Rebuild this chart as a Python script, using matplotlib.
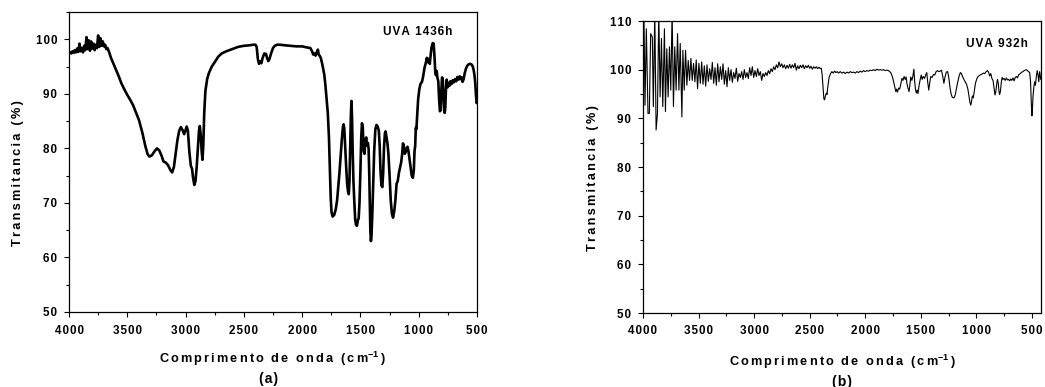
import matplotlib
matplotlib.use("Agg")
import matplotlib.pyplot as plt
from matplotlib.ticker import MultipleLocator, FuncFormatter

# ---- spectrum (a): UVA 1436h ----
wn_a = [4000, 3990, 3980, 3970, 3960, 3950, 3940, 3930, 3920, 3910, 3900, 3890, 3880, 3870,
        3860, 3850, 3840, 3830, 3820, 3810, 3800, 3790, 3780, 3770, 3760, 3750, 3740, 3730,
        3720, 3710, 3700, 3690, 3680, 3670, 3655, 3640, 3620, 3600, 3575, 3550, 3525, 3500,
        3475, 3450, 3400, 3370, 3345, 3325, 3310, 3290, 3265, 3245, 3225, 3205, 3190, 3170,
        3150, 3130, 3115, 3100, 3085, 3070, 3055, 3040, 3025, 3012, 3000, 2990, 2980, 2968,
        2955, 2945, 2935, 2925, 2915, 2905, 2895, 2885, 2878, 2870, 2862, 2855, 2848, 2840,
        2830, 2815, 2800, 2775, 2750, 2720, 2690, 2650, 2600, 2550, 2500, 2450, 2420, 2400,
        2390, 2380, 2370, 2360, 2350, 2340, 2325, 2310, 2300, 2290, 2280, 2265, 2250, 2235,
        2215, 2190, 2150, 2100, 2050, 2000, 1960, 1930, 1915, 1905, 1895, 1885, 1875, 1865,
        1858, 1850, 1840, 1825, 1810, 1800, 1790, 1780, 1770, 1762, 1755, 1748, 1738, 1725,
        1712, 1700, 1690, 1680, 1670, 1660, 1650, 1644, 1638, 1630, 1622, 1614, 1606, 1600,
        1594, 1588, 1582, 1577, 1572, 1566, 1560, 1552, 1545, 1538, 1530, 1522, 1515, 1508,
        1500, 1493, 1487, 1480, 1472, 1465, 1458, 1450, 1443, 1436, 1430, 1425, 1420, 1415,
        1410, 1405, 1398, 1390, 1382, 1372, 1362, 1352, 1342, 1335, 1328, 1320, 1312, 1305,
        1298, 1290, 1284, 1276, 1268, 1260, 1250, 1240, 1230, 1220, 1210, 1200, 1190, 1180,
        1170, 1160, 1150, 1142, 1135, 1128, 1120, 1112, 1104, 1096, 1088, 1080, 1070, 1060,
        1050, 1042, 1036, 1030, 1025, 1020, 1013, 1005, 995, 985, 972, 962, 950, 940, 930,
        922, 915, 905, 898, 890, 880, 872, 865, 858, 852, 846, 840, 832, 825, 818, 812, 806,
        800, 794, 788, 782, 777, 772, 766, 760, 752, 744, 736, 728, 718, 708, 698, 688, 678,
        668, 658, 648, 640, 632, 624, 616, 605, 595, 585, 572, 560, 548, 538, 530, 522, 515,
        508, 503, 500]
tr_a = [97.5, 97.6, 97.4, 97.8, 97.5, 98.0, 97.6, 98.3, 97.7, 99.2, 97.8, 98.4, 97.6, 98.8,
        98.0, 100.4, 98.2, 99.8, 97.9, 99.6, 98.3, 99.2, 98.0, 99.0, 98.4, 100.7, 98.6, 100.2,
        98.8, 99.6, 98.7, 99.0, 98.2, 98.4, 97.6, 96.6, 95.6, 94.6, 93.3, 91.9, 90.8, 89.8,
        88.9, 87.9, 85.2, 82.8, 80.4, 78.9, 78.5, 78.7, 79.5, 80.0, 79.6, 78.6, 77.6, 77.4,
        76.9, 76.0, 75.6, 76.6, 79.0, 81.5, 83.2, 83.9, 83.3, 82.6, 83.4, 84.0, 83.2, 79.5,
        76.8, 76.3, 74.5, 73.3, 74.0, 76.5, 80.0, 83.2, 84.1, 82.5, 79.5, 77.9, 80.5, 86.5,
        90.5, 92.7, 93.8, 95.0, 95.8, 96.8, 97.4, 97.8, 98.2, 98.6, 98.8, 98.9, 99.0, 99.0,
        98.6, 96.4, 95.5, 95.9, 95.6, 96.5, 97.4, 97.3, 96.5, 96.0, 96.4, 97.5, 98.4, 98.8,
        99.0, 99.0, 98.9, 98.8, 98.7, 98.7, 98.5, 98.4, 97.8, 97.2, 97.4, 97.0, 97.6, 98.1,
        97.2, 97.0, 96.6, 95.2, 93.5, 91.5, 89.0, 86.5, 82.0, 76.0, 71.0, 68.3, 67.5, 67.8,
        68.8, 70.5, 73.0, 75.5, 78.5, 81.5, 84.0, 84.4, 83.5, 80.0, 76.5, 73.5, 72.0, 71.6,
        74.0, 80.0, 86.0, 88.7, 85.5, 79.0, 74.0, 70.0, 67.0, 66.0, 65.8, 66.8, 67.2, 70.0,
        76.0, 82.0, 84.6, 84.0, 79.5, 79.0, 81.5, 82.0, 80.5, 81.0, 80.0, 76.0, 70.0, 65.0,
        63.0, 64.0, 68.0, 74.0, 79.5, 83.5, 84.3, 84.0, 83.2, 80.5, 76.0, 73.2, 72.9, 75.5,
        80.0, 82.8, 83.1, 82.0, 80.9, 79.0, 75.0, 70.5, 68.0, 67.3, 68.5, 70.5, 73.5, 74.0,
        75.5, 76.5, 77.5, 79.0, 80.9, 80.5, 79.0, 79.3, 80.0, 80.3, 79.5, 78.2, 76.5, 75.0,
        74.6, 76.0, 79.5, 80.5, 83.8, 83.5, 86.0, 89.0, 90.8, 91.8, 92.2, 93.2, 94.8, 95.6, 96.6,
        95.8, 96.4, 95.5, 97.0, 98.5, 99.3, 99.2, 97.0, 94.0, 93.4, 94.2, 93.0, 92.3, 89.0, 86.8, 87.0, 90.5,
        93.0, 92.8, 90.0, 87.0, 86.5, 87.5, 91.0, 92.6, 91.2, 92.0, 91.5, 92.3, 91.8, 92.5, 92.1, 92.7, 92.3,
        93.1, 92.6, 93.2, 92.7, 93.0, 92.2, 92.6, 93.8, 94.6, 95.1, 95.4, 95.5, 95.4, 95.1, 94.5, 93.5, 92.0,
        89.5, 88.3, 88.5]

# ---- spectrum (b): UVA 932h ----
wn_b = [4000, 3991, 3982, 3970, 3955, 3943, 3931, 3916, 3907, 3894, 3882, 3870, 3858, 3846,
        3834, 3822, 3807, 3798, 3786, 3774, 3762, 3750, 3738, 3726, 3714, 3702, 3689, 3677,
        3665, 3650, 3641, 3629, 3617, 3605, 3593, 3581, 3569, 3557, 3545, 3533, 3521, 3509,
        3497, 3484, 3472, 3460, 3448, 3436, 3424, 3412, 3400, 3388, 3376, 3364, 3352, 3340,
        3328, 3316, 3304, 3292, 3280, 3268, 3256, 3244, 3232, 3220, 3208, 3196, 3184, 3172,
        3160, 3148, 3136, 3124, 3112, 3100, 3088, 3076, 3064, 3052, 3040, 3028, 3016, 3004,
        2992, 2980, 2968, 2956, 2944, 2932, 2920, 2908, 2896, 2884, 2872, 2860, 2848, 2836,
        2824, 2812, 2800, 2788, 2776, 2764, 2752, 2740, 2728, 2716, 2704, 2692, 2680, 2668,
        2656, 2644, 2632, 2620, 2608, 2596, 2584, 2572, 2560, 2548, 2536, 2524, 2512, 2500,
        2488, 2476, 2464, 2452, 2440, 2428, 2416, 2404, 2395, 2388, 2380, 2372, 2366, 2358,
        2350, 2344, 2335, 2325, 2312, 2300, 2288, 2276, 2264, 2252, 2240, 2225, 2210, 2195,
        2180, 2165, 2150, 2135, 2120, 2105, 2090, 2075, 2060, 2045, 2030, 2015, 2000, 1985,
        1970, 1955, 1940, 1925, 1910, 1895, 1880, 1865, 1850, 1835, 1820, 1805, 1790, 1770,
        1755, 1745, 1735, 1725, 1718, 1710, 1700, 1690, 1680, 1670, 1660, 1650, 1640, 1632,
        1625, 1615, 1605, 1598, 1590, 1580, 1570, 1562, 1555, 1548, 1540, 1532, 1525, 1515,
        1505, 1496, 1488, 1478, 1466, 1456, 1446, 1438, 1428, 1420, 1410, 1398, 1386, 1374,
        1362, 1350, 1338, 1326, 1314, 1302, 1292, 1282, 1270, 1258, 1248, 1238, 1228, 1218,
        1208, 1198, 1188, 1178, 1168, 1156, 1144, 1134, 1124, 1112, 1100, 1088, 1076, 1066,
        1057, 1050, 1043, 1036, 1028, 1018, 1008, 996, 984, 972, 960, 948, 936, 924, 912, 900,
        890, 880, 870, 860, 850, 840, 832, 825, 817, 810, 803, 796, 790, 783, 775, 768, 760,
        750, 740, 730, 720, 710, 700, 690, 680, 670, 660, 650, 640, 630, 620, 610, 600, 590,
        580, 570, 560, 550, 540, 530, 520, 512, 505, 500, 495, 490, 482, 475, 468, 460, 452,
        445, 438, 430, 420]
tr_b = [112.0, 110.2, 92.7, 108.4, 91.0, 91.0, 107.4, 106.7, 92.4, 112.0, 87.6, 91.0, 112.0, 94.4,
        106.4, 92.4, 108.4, 91.4, 104.3, 94.4, 104.7, 95.8, 112.0, 92.4, 104.7, 95.8, 107.4, 95.8,
        105.4, 90.3, 104.0, 95.8, 104.0, 96.8, 101.9, 97.8, 102.3, 97.8, 101.3, 97.5, 102.0, 96.1,
        101.3, 97.2, 101.6, 97.0, 100.8, 96.6, 101.0, 97.6, 100.2, 98.0, 101.5, 97.2, 100.4, 96.8,
        101.2, 97.5, 100.6, 98.0, 101.2, 97.0, 99.8, 96.5, 100.4, 97.8, 100.0, 97.4, 99.4, 98.2,
        100.3, 97.6, 99.2, 98.4, 99.6, 98.0, 100.0, 98.4, 99.4, 98.2, 100.4, 98.8, 100.6, 98.4,
        99.8, 98.6, 100.2, 98.8, 99.6, 97.8, 99.2, 98.6, 99.4, 98.8, 99.8, 99.2, 100.2, 99.6,
        100.6, 100.0, 101.0, 100.4, 101.6, 100.6, 101.2, 100.4, 101.0, 100.2, 100.9, 100.3, 101.1, 100.3,
        101.0, 100.4, 101.3, 99.9, 100.8, 100.2, 100.9, 100.4, 101.0, 100.2, 100.8, 100.4, 100.9, 100.3,
        100.7, 100.1, 100.6, 100.3, 100.6, 100.2, 100.5, 100.2, 100.3, 99.0, 96.5, 94.0, 93.8, 94.6,
        95.2, 94.9, 96.8, 98.4, 99.2, 99.6, 99.3, 99.7, 99.4, 99.6, 99.3, 99.6, 99.3, 99.5,
        99.2, 99.5, 99.3, 99.6, 99.4, 99.5, 99.3, 99.6, 99.4, 99.7, 99.5, 99.8, 99.6, 99.8,
        99.7, 99.9, 99.8, 100.0, 99.8, 100.1, 99.9, 100.0, 99.9, 100.0, 99.8, 99.9, 99.8, 99.4,
        98.5, 97.6, 96.5, 95.5, 96.0, 95.4, 96.2, 96.0, 97.0, 98.2, 97.8, 98.6, 98.0, 98.5,
        97.2, 96.2, 95.5, 97.0, 98.5, 97.8, 98.8, 100.1, 97.6, 96.0, 95.2, 95.8, 95.1, 96.8,
        98.0, 98.9, 98.0, 98.6, 98.2, 98.9, 99.4, 97.5, 95.8, 97.2, 98.6, 98.4, 99.0, 98.9,
        99.6, 99.8, 99.6, 99.7, 99.9, 98.6, 97.2, 98.5, 99.5, 99.6, 98.4, 96.5, 95.1, 94.4,
        94.2, 94.3, 95.0, 96.2, 97.4, 98.6, 99.4, 99.2, 98.6, 98.0, 97.5, 97.0, 96.0, 94.6,
        93.2, 92.7, 93.5, 94.6, 94.2, 95.6, 97.2, 98.1, 98.6, 98.8, 99.0, 99.1, 99.3, 99.2, 99.6, 99.8,
        99.5, 98.7, 99.2, 98.2, 97.8, 96.2, 94.8, 95.4, 97.0, 98.0, 97.3, 95.5, 94.9, 95.6, 97.4, 98.4, 98.0,
        98.2, 97.8, 98.3, 97.9, 98.0, 97.7, 98.1, 97.8, 98.3, 97.7, 98.4, 98.6, 98.3, 98.9, 99.1, 99.3, 99.5,
        99.6, 99.8, 99.9, 100.0, 99.8, 99.6, 99.4, 97.5, 93.0, 90.5, 92.0, 94.5, 96.5, 97.5, 96.8, 98.6, 99.8,
        99.0, 97.5, 99.6, 98.0]

x_ticks = [4000, 3500, 3000, 2500, 2000, 1500, 1000, 500]
xlabel_text = "Comprimento de onda (cm"
ylabel_text = "Transmitancia (%)"
panel_a_tag = "UVA 1436h"
panel_b_tag = "UVA 932h"

plt.rcParams["font.family"] = ["Liberation Sans", "DejaVu Sans"]
plt.rcParams["mathtext.fontset"] = "custom"
plt.rcParams["mathtext.rm"] = "Liberation Sans:bold"
plt.rcParams["mathtext.bf"] = "Liberation Sans:bold"

HS = "\u200a"


def spread(s, n=1):
    """Open up the letter spacing, in the style of Origin's bold labels."""
    return (HS * n).join(s)


fig = plt.figure(figsize=(10.45, 3.87), dpi=100)
W, H = 1045, 387


def make_axes(left, right, top, bottom):
    return fig.add_axes([left / W, 1 - bottom / H, (right - left) / W, (bottom - top) / H])


ax_a = make_axes(69, 477, 12, 312)
ax_b = make_axes(643, 1041, 21, 313)

tick_fmt = FuncFormatter(lambda v, p: spread(f"{int(round(v))}"))

for ax in (ax_a, ax_b):
    ax.set_xticks(x_ticks)
    ax.xaxis.set_minor_locator(MultipleLocator(250))
    ax.yaxis.set_major_locator(MultipleLocator(10))
    ax.yaxis.set_minor_locator(MultipleLocator(5))
    ax.xaxis.set_major_formatter(tick_fmt)
    ax.yaxis.set_major_formatter(tick_fmt)
    ax.tick_params(which="both", direction="out", top=False, right=False,
                   width=0.8, colors="black")
    ax.tick_params(which="major", length=3.5, labelsize=8.4)
    ax.tick_params(axis="x", which="major", pad=5.5)
    ax.tick_params(axis="y", which="major", pad=5)
    ax.tick_params(which="minor", length=2)
    for sp in ax.spines.values():
        sp.set_linewidth(0.9)

ax_a.plot(wn_a, tr_a, color="black", lw=1.9, solid_joinstyle="round")
ax_a.set_xlim(4000, 500)
ax_a.set_ylim(50, 105)

ax_b.plot(wn_b, tr_b, color="black", lw=0.8)
ax_b.set_xlim(4000, 418)
ax_b.set_ylim(50, 110)

for ax in (ax_a, ax_b):
    for lab in ax.get_xticklabels() + ax.get_yticklabels():
        lab.set_fontweight("bold")

label_kw = dict(fontsize=9.2, fontweight="bold", ha="center", va="center")
xlab = spread(xlabel_text, 2) + "$^{\\mathbf{-1}}$" + HS * 2 + ")"
fig.text(18 / W, 1 - 173 / H, spread(ylabel_text, 2), rotation=90, **label_kw)
fig.text(593 / W, 1 - 178 / H, spread(ylabel_text, 2), rotation=90, **label_kw)
fig.text(272 / W, 1 - 359 / H, xlab, **label_kw)
fig.text(842 / W, 1 - 362 / H, xlab, **label_kw)

tag_kw = dict(fontsize=10, fontweight="bold", ha="center", va="center")
fig.text(269 / W, 1 - 379 / H, spread("(a)"), **tag_kw)
fig.text(842 / W, 1 - 382 / H, spread("(b)"), **tag_kw)

ax_a.text(452 / W, 1 - 32 / H, spread(panel_a_tag), transform=fig.transFigure, ha="right",
          va="center", fontsize=8.5, fontweight="bold")
ax_b.text(1028 / W, 1 - 44 / H, spread(panel_b_tag), transform=fig.transFigure, ha="right",
          va="center", fontsize=8.5, fontweight="bold")

fig.savefig("out.png", dpi=100)
